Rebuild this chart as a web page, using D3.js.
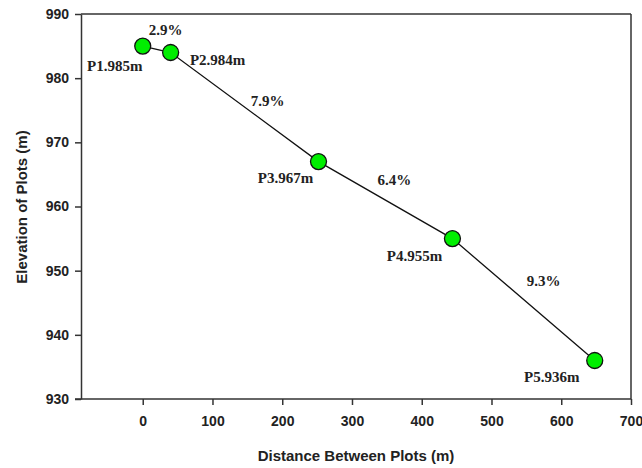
<!DOCTYPE html>
<html>
<head>
<meta charset="utf-8">
<script src="https://cdn.jsdelivr.net/npm/d3@7"></script>
<style>
  body { margin: 0; background: #fff; }
  .tick text { font-family: Arial, "Liberation Sans", sans-serif; font-weight: bold; font-size: 14px; fill: #222; }
  .lbl { font-family: "Times New Roman", "Liberation Serif", serif; font-weight: bold; font-size: 15px; fill: #222; }
  .title { font-family: Arial, "Liberation Sans", sans-serif; font-weight: bold; font-size: 15px; fill: #222; }
</style>
</head>
<body>
<svg id="chart" width="642" height="468"></svg>
<script>
// plot data
var plotNames = ["P1.985m", "P2.984m", "P3.967m", "P4.955m", "P5.936m"];
var distances = [0, 40, 252, 444, 648];
var elevations = [985, 984, 967, 955, 936];
var slopeLabels = ["2.9%", "7.9%", "6.4%", "9.3%"];
var xTicks = [0, 100, 200, 300, 400, 500, 600, 700];
var yTicks = [930, 940, 950, 960, 970, 980, 990];

// label offsets (px) from the point / segment midpoint
var nameOffsets = [[-28, 25], [47, 12], [-33, 21], [-38, 22], [-43, 21]];
var slopeOffsets = [[9, -14], [23, -1], [9, -15], [20, -14]];

var svg = d3.select("#chart");
var padL = 81, padR = 631, padT = 14, padB = 399;

var x = d3.scaleLinear().domain([-88.5, 700]).range([padL, padR]);
var y = d3.scaleLinear().domain([930, 990]).range([padB, padT]);

var axisColor = "#333";

// frame top and right
svg.append("line").attr("x1", padL).attr("x2", padR).attr("y1", padT).attr("y2", padT)
    .attr("stroke", axisColor).attr("stroke-width", 1.5);
svg.append("line").attr("x1", padR).attr("x2", padR).attr("y1", padT).attr("y2", padB)
    .attr("stroke", axisColor).attr("stroke-width", 1.5);

var xAxis = svg.append("g")
    .attr("transform", "translate(0," + padB + ")")
    .call(d3.axisBottom(x).tickValues(xTicks).tickSize(6).tickPadding(11).tickSizeOuter(0));
var yAxis = svg.append("g")
    .attr("transform", "translate(" + padL + ",0)")
    .call(d3.axisLeft(y).tickValues(yTicks).tickSize(6).tickPadding(6).tickSizeOuter(0));

[xAxis, yAxis].forEach(function(a)
{
    a.select(".domain").attr("stroke", axisColor).attr("stroke-width", 1.5);
    a.selectAll(".tick line").attr("stroke", axisColor).attr("stroke-width", 1.5);
});
xAxis.select(".domain").attr("d", "M" + (padL - 6) + ",0H" + padR);

var points = distances.map(function(d, i) { return {x: d, y: elevations[i], name: plotNames[i]}; });

svg.append("path")
    .datum(points)
    .attr("fill", "none")
    .attr("stroke", "#111")
    .attr("stroke-width", 1.3)
    .attr("d", d3.line().x(function(d) { return x(d.x); }).y(function(d) { return y(d.y); }));

svg.selectAll("circle.pt")
    .data(points)
    .enter().append("circle")
    .attr("class", "pt")
    .attr("cx", function(d) { return x(d.x); })
    .attr("cy", function(d) { return y(d.y); })
    .attr("r", 8)
    .attr("fill", "#00ee00")
    .attr("stroke", "#111")
    .attr("stroke-width", 1.3);

svg.selectAll("text.name")
    .data(points)
    .enter().append("text")
    .attr("class", "lbl name")
    .attr("text-anchor", "middle")
    .attr("x", function(d, i) { return x(d.x) + nameOffsets[i][0]; })
    .attr("y", function(d, i) { return y(d.y) + nameOffsets[i][1]; })
    .text(function(d) { return d.name; });

svg.selectAll("text.slope")
    .data(slopeLabels)
    .enter().append("text")
    .attr("class", "lbl slope")
    .attr("text-anchor", "middle")
    .attr("x", function(d, i) { return x((distances[i] + distances[i + 1]) / 2) + slopeOffsets[i][0]; })
    .attr("y", function(d, i) { return y((elevations[i] + elevations[i + 1]) / 2) + slopeOffsets[i][1]; })
    .text(function(d) { return d; });

svg.append("text")
    .attr("class", "title")
    .attr("text-anchor", "middle")
    .attr("x", 356).attr("y", 461)
    .text("Distance Between Plots (m)");

svg.append("text")
    .attr("class", "title")
    .attr("text-anchor", "middle")
    .attr("transform", "translate(27,207) rotate(-90)")
    .text("Elevation of Plots (m)");
</script>
</body>
</html>
